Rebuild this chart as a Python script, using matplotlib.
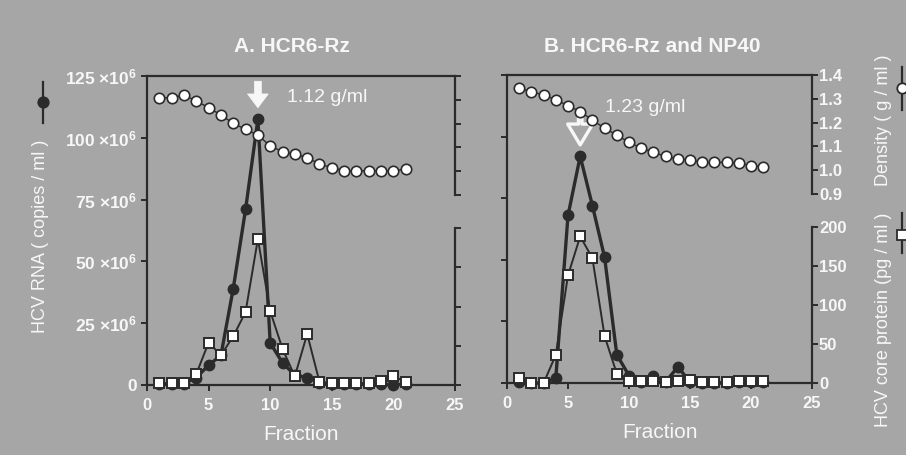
import matplotlib
matplotlib.use("Agg")
import matplotlib.pyplot as plt
from matplotlib.lines import Line2D

plt.rcParams['font.family'] = ['Liberation Sans', 'DejaVu Sans']
plt.rcParams['mathtext.fontset'] = 'custom'
plt.rcParams['mathtext.rm'] = 'Liberation Sans:bold'
plt.rcParams['mathtext.it'] = 'Liberation Sans:bold'
plt.rcParams['mathtext.bf'] = 'Liberation Sans:bold'
plt.rcParams['mathtext.default'] = 'regular'

# ---------------- data ----------------
fractions = list(range(1, 22))

a_rna = [0.5, 0.5, 0.5, 3, 8, 12, 39, 71, 107.5, 17, 9, 4, 3, 1, 0.5, 0.5, 0.5, 0.5, 0.5, 0, 0.5]
a_core = [2, 2, 2, 14, 54, 38, 62, 93, 186, 94, 46, 11, 65, 4, 2, 2, 2, 2, 5, 11, 4]
a_dens = [1.309, 1.309, 1.32, 1.295, 1.267, 1.236, 1.201, 1.176, 1.152, 1.106, 1.082,
          1.071, 1.057, 1.03, 1.015, 1.002, 1.002, 1.002, 1.002, 1.002, 1.008]

b_rna = [0.5, 0, 0, 2, 68, 92, 72, 51, 11.5, 3, 0.5, 3, 0.5, 6.5, 0.5, 0, 0, 0, 0.5, 0.5, 0.5]
b_core = [6, 0, 0, 36, 138, 188, 160, 60, 12, 3, 2, 3, 1, 2, 4, 1, 1, 1, 3, 2, 3]
b_dens = [1.344, 1.330, 1.316, 1.296, 1.271, 1.246, 1.211, 1.176, 1.148, 1.117, 1.093,
          1.075, 1.058, 1.047, 1.043, 1.033, 1.033, 1.033, 1.030, 1.019, 1.015]

titles = ["A. HCR6-Rz", "B. HCR6-Rz and NP40"]
peak_labels = ["1.12 g/ml", "1.23 g/ml"]
peak_fraction = [9, 6]
x_ticks = [0, 5, 10, 15, 20, 25]
rna_ticks = [0, 25, 50, 75, 100, 125]
rna_ticklabels = ["0", r"25 $\times$10$^{6}$", r"50 $\times$10$^{6}$", r"75 $\times$10$^{6}$",
                  r"100 $\times$10$^{6}$", r"125 $\times$10$^{6}$"]
dens_ticks = [0.9, 1.0, 1.1, 1.2, 1.3, 1.4]
dens_ticklabels = ["0.9", "1.0", "1.1", "1.2", "1.3", "1.4"]
core_ticks = [0, 50, 100, 150, 200]
core_ticklabels = ["0", "50", "100", "150", "200"]

# ---------------- style ----------------
BG = '#a6a6a6'
DARK = '#2b2b2b'
WHITE = '#f7f7f7'
W, H = 906, 455

fig = plt.figure(figsize=(9.06, 4.55), dpi=100, facecolor=BG)

def fr(px_left, px_top, px_right, px_bottom):
    return [px_left / W, 1 - px_bottom / H, (px_right - px_left) / W, (px_bottom - px_top) / H]

panels = [
    dict(left=147, right=455, top=76, bottom=385, dens_bottom=195, core_top=228,
         rna=a_rna, core=a_core, dens=a_dens, title_x=292),
    dict(left=507, right=812, top=75, bottom=383, dens_bottom=194, core_top=227,
         rna=b_rna, core=b_core, dens=b_dens, title_x=652),
]

tick_kw = dict(direction='out', length=4, width=1.4, color=DARK, labelcolor=WHITE)

for i, p in enumerate(panels):
    ax = fig.add_axes(fr(p['left'], p['top'], p['right'], p['bottom']))
    ax.set_facecolor('none')
    ax.set_xlim(0, 25)
    ax.set_ylim(0, 125)
    for s in ['left', 'bottom', 'top']:
        ax.spines[s].set_color(DARK)
        ax.spines[s].set_linewidth(1.6)
    ax.spines['right'].set_visible(False)
    ax.set_xticks(x_ticks)
    ax.set_xticklabels([str(t) for t in x_ticks], fontsize=12, fontweight='bold')
    ax.set_yticks(rna_ticks)
    if i == 0:
        ax.set_yticklabels(rna_ticklabels, fontsize=12.5, fontweight='bold')
    else:
        ax.set_yticklabels([])
    ax.tick_params(axis='both', pad=3, **tick_kw)
    ax.tick_params(axis='x', pad=5)
    ax.set_xlabel("Fraction", color=WHITE, fontsize=15, labelpad=9)

    # RNA (filled circles)
    ax.plot(fractions, p['rna'], '-o', color=DARK, lw=2.4, ms=7.5,
            mfc=DARK, mec=DARK, clip_on=False, zorder=3)

    # density axes (upper right segment)
    axd = fig.add_axes(fr(p['left'], p['top'], p['right'], p['dens_bottom']), sharex=ax)
    axd.set_facecolor('none')
    axd.set_ylim(0.9, 1.4)
    for s in ['left', 'bottom', 'top']:
        axd.spines[s].set_visible(False)
    axd.spines['right'].set_color(DARK)
    axd.spines['right'].set_linewidth(1.6)
    axd.yaxis.tick_right()
    axd.set_yticks(dens_ticks)
    axd.tick_params(axis='x', bottom=False, labelbottom=False)
    axd.tick_params(axis='y', pad=1, **tick_kw)
    if i == 1:
        axd.set_yticklabels(dens_ticklabels, fontsize=12, fontweight='bold')
    else:
        axd.set_yticklabels([])
    axd.plot(fractions, p['dens'], '-o', color=DARK, lw=1.0, ms=7.5,
             mfc='white', mec=DARK, mew=1.2, clip_on=False, zorder=4)

    # core protein axes (lower right segment)
    axc = fig.add_axes(fr(p['left'], p['core_top'], p['right'], p['bottom']), sharex=ax)
    axc.set_facecolor('none')
    axc.set_ylim(0, 200)
    for s in ['left', 'bottom', 'top']:
        axc.spines[s].set_visible(False)
    axc.spines['right'].set_color(DARK)
    axc.spines['right'].set_linewidth(1.6)
    axc.yaxis.tick_right()
    axc.set_yticks(core_ticks)
    axc.tick_params(axis='x', bottom=False, labelbottom=False)
    axc.tick_params(axis='y', pad=1, **tick_kw)
    if i == 1:
        axc.set_yticklabels(core_ticklabels, fontsize=12, fontweight='bold')
    else:
        axc.set_yticklabels([])
    axc.plot(fractions, p['core'], '-s', color=DARK, lw=1.4, ms=7.5,
             mfc='white', mec=DARK, mew=1.4, clip_on=False, zorder=5)

    # title
    fig.text(p['title_x'] / W, 1 - 46 / H, titles[i], color=WHITE, fontsize=15,
             fontweight='bold', ha='center', va='center')

    # peak arrows and labels
    pf = peak_fraction[i]
    if i == 0:
        ax.annotate('', xy=(pf, 111), xytext=(pf, 124),
                    arrowprops=dict(arrowstyle='simple,head_width=1.5,head_length=1.0,tail_width=0.5',
                                    fc=WHITE, ec=WHITE, lw=0.5), zorder=6)
        ax.text(11.4, 116.5, peak_labels[i], color=WHITE, fontsize=14, va='center', ha='left')
    else:
        ax.annotate('', xy=(pf, 95.5), xytext=(pf, 110),
                    arrowprops=dict(arrowstyle='simple,head_width=1.8,head_length=1.5,tail_width=0.25',
                                    fc='none', ec=WHITE, lw=2.4), zorder=6)
        ax.text(8.0, 112, peak_labels[i], color=WHITE, fontsize=14, va='center', ha='left')

# axis labels (figure level)
fig.text(41 / W, 1 - 236 / H, "HCV RNA ( copies / ml )", rotation=90, color=WHITE,
         fontsize=13, ha='center', va='center')
fig.text(883 / W, 1 - 120 / H, "Density ( g / ml )", rotation=90, color=WHITE,
         fontsize=13, ha='center', va='center')
fig.text(883 / W, 1 - 320 / H, "HCV core protein (pg / ml )", rotation=90, color=WHITE,
         fontsize=13, ha='center', va='center')

# legend symbols
def sym(x, y0, y1, yc, marker, mfc):
    fig.add_artist(Line2D([x / W, x / W], [1 - y0 / H, 1 - y1 / H], color=DARK, lw=1.6,
                          transform=fig.transFigure))
    fig.add_artist(Line2D([x / W], [1 - yc / H], marker=marker, ms=7.5, mfc=mfc, mec=DARK,
                          mew=1.3, lw=0, transform=fig.transFigure))

sym(43, 82, 123, 102, 'o', DARK)
sym(902, 67, 110, 88, 'o', 'white')
sym(902, 213, 253, 235, 's', 'white')

fig.savefig("out.png", dpi=100, facecolor=BG)
